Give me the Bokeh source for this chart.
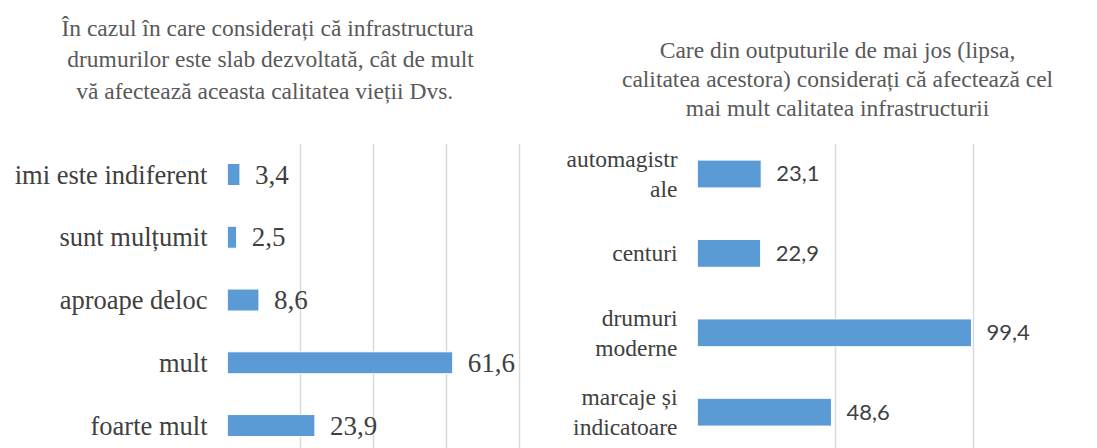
from bokeh.plotting import figure
from bokeh.models import Range1d, FixedTicker, LabelSet, Label, ColumnDataSource, Grid
from bokeh.layouts import row, column
from bokeh.core.properties import value
from bokeh.embed import file_html
from bokeh.resources import INLINE

# ---- data ----
left_categories = ["imi este indiferent", "sunt mulțumit", "aproape deloc", "mult", "foarte mult"]
left_values = [3.4, 2.5, 8.6, 61.6, 23.9]
left_grid_ticks = [0, 20, 40, 60, 80]
left_title_lines = ["În cazul  în care considerați  că infrastructura",
                    "drumurilor  este slab dezvoltată, cât de mult",
                    "vă afectează  aceasta calitatea  vieții  Dvs."]

right_categories = ["automagistr\nale", "centuri", "drumuri\nmoderne", "marcaje și\nindicatoare"]
right_values = [23.1, 22.9, 99.4, 48.6]
right_grid_ticks = [0, 50, 100]
right_title_lines = ["Care din outputurile  de mai jos (lipsa,",
                     "calitatea  acestora) considerați că afectează cel",
                     "mai mult calitatea  infrastructurii"]

BAR = "#5B9BD5"
GRID = "#d9d9d9"
TXT = "#404040"
TITLE = "#595959"
TITLE_H = 143
CHART_H = 305
TOTAL_W = 1097


def make_titles(blocks):
    t = figure(width=TOTAL_W, height=TITLE_H, output_backend="svg", toolbar_location=None,
               x_range=Range1d(0, 1), y_range=Range1d(0, 1),
               x_axis_type=None, y_axis_type=None, min_border=0)
    t.outline_line_color = None
    for lines, tx, ys, size in blocks:
        for line, ty in zip(lines, ys):
            t.add_layout(Label(x=tx, y=ty, x_units="screen", y_units="screen",
                               text=line, text_align="center", text_baseline="middle",
                               text_font="Liberation Serif", text_font_size=size,
                               text_color=TITLE))
    return t


def make_chart(cats, vals, grid_ticks, width, border_left, x_end, y_top, y_bottom,
               cat_size, val_font, val_size):
    idx = list(range(len(cats)))
    p = figure(width=width, height=CHART_H, output_backend="svg", toolbar_location=None,
               x_range=Range1d(0, x_end), y_range=Range1d(y_bottom, y_top),
               x_axis_type=None, min_border_left=border_left, min_border_right=0,
               min_border_top=0, min_border_bottom=0)
    p.outline_line_color = None
    p.ygrid.visible = False
    p.add_layout(Grid(dimension=0, ticker=FixedTicker(ticks=grid_ticks),
                      grid_line_color=GRID, grid_line_width=1.5))

    ax = p.yaxis[0]
    ax.ticker = FixedTicker(ticks=idx)
    ax.major_label_overrides = {i: c for i, c in zip(idx, cats)}
    ax.axis_line_color = None
    ax.major_tick_line_color = None
    ax.minor_tick_line_color = None
    ax.major_tick_out = 0
    ax.major_tick_in = 0
    ax.major_label_standoff = 20
    ax.major_label_text_font = "Liberation Serif"
    ax.major_label_text_font_size = cat_size
    ax.major_label_text_color = TXT
    ax.major_label_text_line_height = 1.15

    src = ColumnDataSource(dict(y=idx, x=vals,
                                text=[f"{v:.1f}".replace(".", ",") for v in vals]))
    p.hbar(y="y", right="x", left=0, height=0.35, source=src,
           fill_color=BAR, line_color="white", line_width=1)
    p.add_layout(LabelSet(x="x", y="y", text="text", source=src, x_offset=15,
                          text_baseline="middle", text_align="left",
                          text_font=value(val_font), text_font_size=value(val_size),
                          text_color=TXT))
    return p


titles = make_titles([
    (left_title_lines, 273, [116, 85, 53], "23.5px"),
    (right_title_lines, 840, [94, 65, 36], "23.5px"),
])
left = make_chart(left_categories, left_values, left_grid_ticks,
                  width=548, border_left=227, x_end=87.8, y_top=-0.494, y_bottom=4.366,
                  cat_size="26.5px", val_font="Liberation Serif", val_size="27px")
right = make_chart(right_categories, right_values, right_grid_ticks,
                   width=549, border_left=149, x_end=145.1, y_top=-0.384, y_bottom=3.457,
                   cat_size="23.5px", val_font="Lato", val_size="22px")

layout = column(titles, row(left, right))
open("out.html", "w").write(file_html(layout, INLINE))
